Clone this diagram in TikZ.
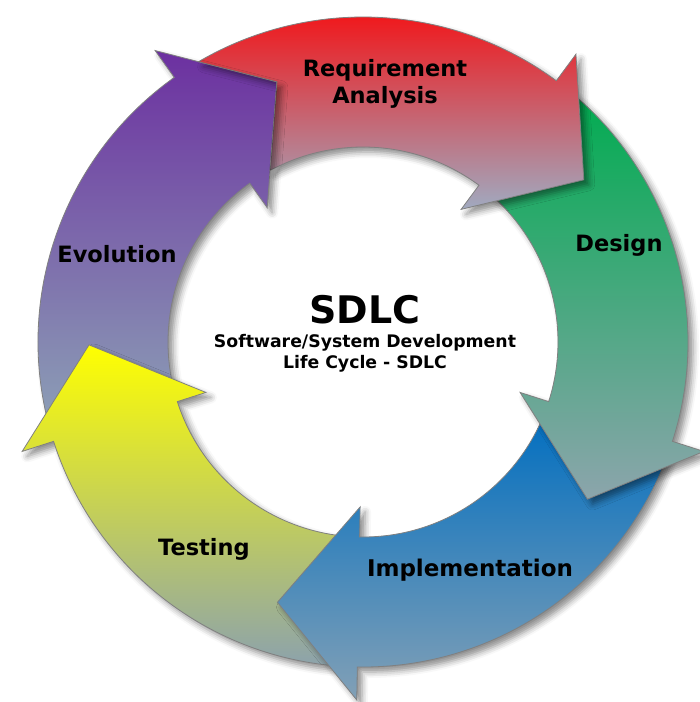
\documentclass[tikz,border=0pt]{standalone}
\usepackage{fontspec}
\setmainfont{DejaVu Sans}
\usetikzlibrary{positioning}
\usetikzlibrary{shadows.blur}

\definecolor{reqtop}{RGB}{248,10,12}
\definecolor{reqmid}{RGB}{214,74,84}
\definecolor{reqbot}{RGB}{160,170,192}
\definecolor{destop}{RGB}{0,172,80}
\definecolor{desbot}{RGB}{140,165,172}
\definecolor{imptop}{RGB}{0,110,192}
\definecolor{impbot}{RGB}{130,160,182}
\definecolor{testop}{RGB}{255,255,0}
\definecolor{tesbot}{RGB}{140,162,172}
\definecolor{evotop}{RGB}{108,48,160}
\definecolor{evobot}{RGB}{140,160,182}

% ring radii (1 unit = 1pt)
\newcommand{\ringin}{195}
\newcommand{\ringout}{325}
\newcommand{\barbin}{165}
\newcommand{\barbout}{358}
\newcommand{\tipr}{274}
% #1 = tail angle, #2 = angle of the head base
\newcommand{\stagepath}[2]{(#1:\ringout) arc[start angle=#1, end angle=#2, radius=\ringout]
  -- (#2:\barbout) -- ({#2-17.2}:\tipr) -- (#2:\barbin) -- (#2:\ringin)
  arc[start angle=#2, end angle=#1, radius=\ringin] -- cycle}
% red one: its tail is cut along the purple head
\newcommand{\reqpath}{(120.4:\ringout) arc[start angle=120.4, end angle=53.5, radius=\ringout]
  -- (53.5:\barbout) -- (36.3:\tipr) -- (53.5:\barbin) -- (53.5:\ringin)
  arc[start angle=53.5, end angle=118.45, radius=\ringin] -- (108.3:\tipr) -- cycle}
\newcommand{\headpath}[1]{(#1:\barbout) -- ({#1-17.2}:\tipr) -- (#1:\barbin) -- cycle}

\tikzset{
	softshadow/.style={blur shadow={shadow xshift=5pt, shadow yshift=-5pt,
			shadow blur radius=6pt, shadow opacity=45}},
	stagearrow/.style={
		draw=black!50, line width=0.8pt, line join=miter, softshadow},
	reqarrow/.style={stagearrow, top color=reqtop, middle color=reqmid, bottom color=reqbot},
	desarrow/.style={stagearrow, top color=destop, bottom color=desbot},
	imparrow/.style={stagearrow, top color=imptop, bottom color=impbot},
	tesarrow/.style={stagearrow, top color=testop, bottom color=tesbot},
	evoarrow/.style={stagearrow, top color=evotop, bottom color=evobot},
	stagelabel/.style={font=\fontsize{22.5}{27}\selectfont\bfseries, align=center},
}

\begin{document}
\begin{tikzpicture}[x=1pt, y=1pt, node distance=2pt]
\useasboundingbox (-363,-360) rectangle (337,342);

\path[evoarrow] \stagepath{194.8}{125.5};
\path[tesarrow] \stagepath{-94}{-162.2};
\path[imparrow] \stagepath{-20.8}{-91};
\path[desarrow] \stagepath{50.5}{-17.8};
\path[reqarrow] \reqpath;
% shadow of the purple head on the red arrow
\begin{scope}
	\clip \reqpath;
	\path[softshadow] \headpath{125.5};
\end{scope}

\node[stagelabel] (req) at (22,258) {Requirement\\Analysis};
\node[stagelabel] (design) at (256,97) {Design};
\node[stagelabel, font=\fontsize{23}{27}\selectfont\bfseries] (impl) at (107,-228) {Implementation};
\node[stagelabel] (testing) at (-159,-207) {Testing};
\node[stagelabel] (evolution) at (-246,88) {Evolution};

\node[font=\fontsize{38}{42}\selectfont\bfseries] (sdlc) at (2,32) {SDLC};
\node[font=\fontsize{17.3}{20.5}\selectfont\bfseries, align=center, below=3pt of sdlc]
	(subtitle) {Software/System Development\\Life Cycle - SDLC};
\end{tikzpicture}
\end{document}
